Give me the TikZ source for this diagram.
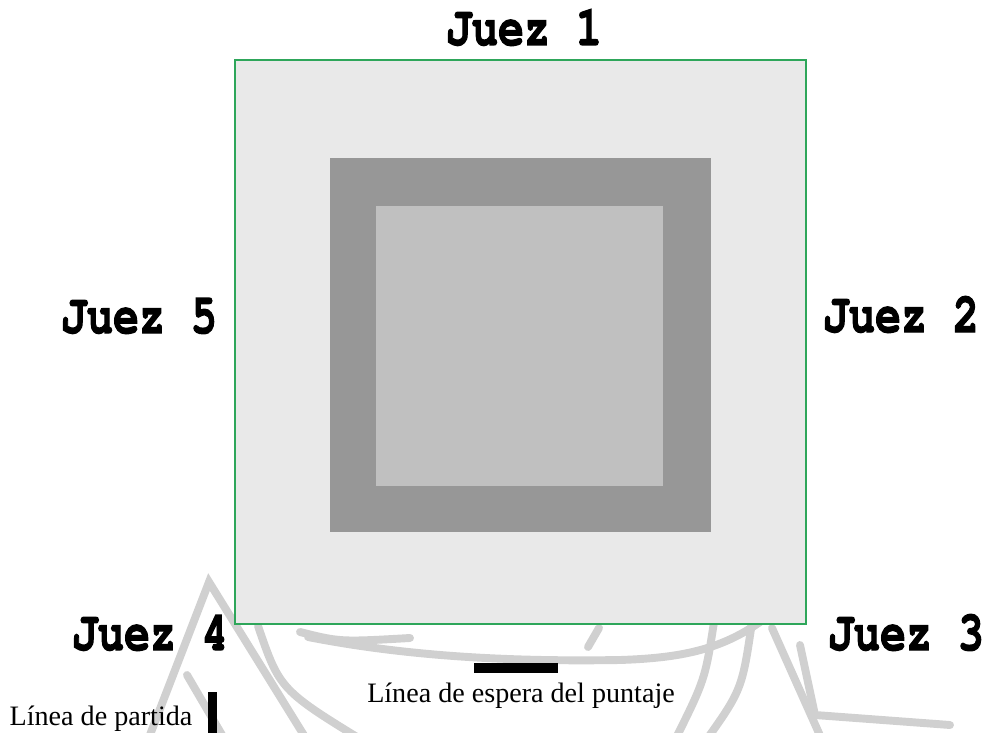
\documentclass[tikz,border=0pt]{standalone}
\usepackage[T1]{fontenc}
\usepackage{fontspec}
\setmainfont{Liberation Serif}
\usepackage{tikz}
\usetikzlibrary{positioning}

\definecolor{fieldgray}{RGB}{233,233,233}
\definecolor{zonegray}{RGB}{151,151,151}
\definecolor{matgray}{RGB}{192,192,192}
\definecolor{edgegreen}{RGB}{46,166,90}
\definecolor{markgray}{RGB}{208,208,208}

\newcommand{\juezfont}{\fontencoding{T1}\fontfamily{pcr}\fontseries{b}\fontsize{32}{36}\selectfont}
\newcommand{\juez}[1]{\special{pdf:literal direct 0.7 w 2 Tr}\scalebox{0.77}[1]{\juezfont Juez #1}\special{pdf:literal direct 0 Tr}}

\tikzset{
    judge/.style={anchor=base, inner sep=0pt},
    caption/.style={anchor=base, inner sep=0pt, font=\fontsize{16}{19}\selectfont},
    watermark/.style={markgray, line width=4.5pt, line cap=round}
}

\begin{document}
\begin{tikzpicture}[x=0.02cm, y=-0.02cm]
    \useasboundingbox (0,0) rectangle (987,733);

    % Faint logo in the background
    \draw[watermark] (148,740) -- (209,582) -- (310,745);
    \draw[watermark] (187,675) -- (225,740);
    \draw[watermark] (258,626) .. controls (280,690) .. (370,745);
    \draw[watermark] (300,632) .. controls (340,642) .. (410,638);
    \draw[watermark] (308,637) .. controls (400,655) and (500,662) .. (620,660)
                              .. controls (680,658) and (720,650) .. (760,622);
    \draw[watermark] (599,628) -- (588,647);
    \draw[watermark] (714,622) .. controls (705,680) .. (672,746);
    \draw[watermark] (752,622) .. controls (742,690) .. (702,746);
    \draw[watermark] (772,628) -- (822,740);
    \draw[watermark] (800,645) -- (815,715) -- (950,725);

    % The field and its zones
    \draw[edgegreen, line width=0.8pt, fill=fieldgray] (235,60) rectangle (806,624);
    \fill[zonegray] (330,158) rectangle (711,532);
    \fill[matgray] (376,206) rectangle (663,486);

    % Judges round the field
    \node[judge] (j1) at (524,45) {\juez{1}};
    \node[judge] (j2) at (901,332) {\juez{2}};
    \node[judge] (j3) at (906,650) {\juez{3}};
    \node[judge] (j4) at (150,650) {\juez{4}};
    \node[judge] (j5) at (139,333) {\juez{5}};

    % Waiting line and starting line
    \fill[black] (474,663) rectangle (558,673);
    \node[caption] (espera) at (521,702) {Línea de espera del puntaje};
    \fill[black] (208,692) rectangle (217,733);
    \node[caption] (partida) at (101,725) {Línea de partida};
\end{tikzpicture}
\end{document}
